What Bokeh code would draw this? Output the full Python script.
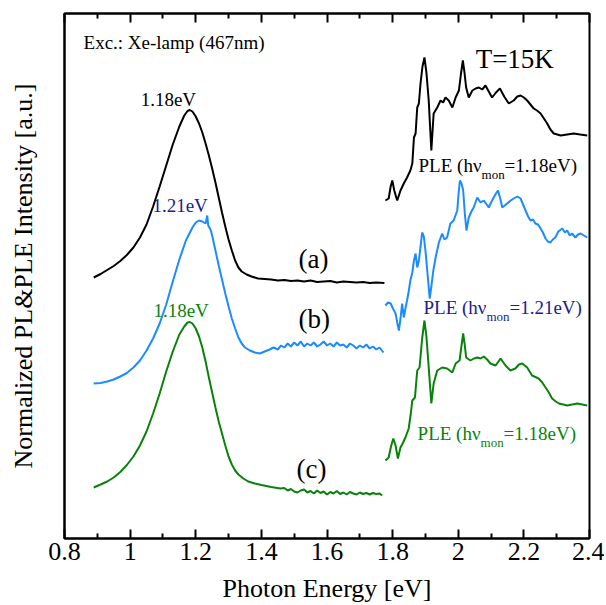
from bokeh.plotting import figure
from bokeh.models import Range1d, FixedTicker, LinearAxis, Label
from bokeh.embed import file_html
from bokeh.resources import INLINE

# ---------------- data (photon energy [eV], normalized intensity [a.u.]) ----------------
pl_a_x = [0.889, 0.91, 0.93, 0.95, 0.97, 0.99, 1.01, 1.03, 1.05, 1.07, 1.09, 1.11, 1.13, 1.15,
          1.165, 1.175, 1.182, 1.19, 1.20, 1.21, 1.22, 1.23, 1.24, 1.25, 1.26, 1.27, 1.28, 1.29,
          1.30, 1.31, 1.32, 1.33, 1.34, 1.355, 1.37, 1.39, 1.41, 1.43, 1.45, 1.47, 1.49, 1.51,
          1.53, 1.55, 1.57, 1.59, 1.61, 1.63, 1.65, 1.67, 1.69, 1.71, 1.73, 1.75, 1.775]
pl_a_y = [2.61, 2.645, 2.685, 2.725, 2.775, 2.835, 2.91, 3.01, 3.14, 3.32, 3.52, 3.73, 3.94, 4.12,
          4.23, 4.275, 4.285, 4.27, 4.22, 4.15, 4.06, 3.95, 3.83, 3.70, 3.56, 3.41, 3.26, 3.12,
          2.99, 2.88, 2.78, 2.71, 2.67, 2.64, 2.62, 2.60, 2.595, 2.59, 2.58, 2.585, 2.575, 2.58,
          2.57, 2.58, 2.565, 2.57, 2.575, 2.56, 2.57, 2.565, 2.56, 2.565, 2.555, 2.56, 2.555]

pl_b_x = [0.889, 0.91, 0.93, 0.95, 0.97, 0.99, 1.01, 1.03, 1.05, 1.07, 1.09, 1.11, 1.13, 1.15,
          1.17, 1.19, 1.20, 1.21, 1.22, 1.23, 1.235, 1.238, 1.245, 1.25, 1.26, 1.27, 1.28, 1.29,
          1.30, 1.31, 1.32, 1.33, 1.34, 1.35, 1.365, 1.38, 1.395, 1.41, 1.425, 1.437, 1.45, 1.46,
          1.47, 1.48, 1.49, 1.50, 1.51, 1.52, 1.53, 1.54, 1.55, 1.56, 1.57, 1.58, 1.59, 1.60,
          1.61, 1.62, 1.63, 1.64, 1.65, 1.66, 1.67, 1.68, 1.69, 1.70, 1.71, 1.72, 1.73, 1.74,
          1.75, 1.76, 1.772]
pl_b_y = [1.55, 1.555, 1.57, 1.59, 1.62, 1.655, 1.71, 1.78, 1.88, 2.00, 2.15, 2.34, 2.57, 2.79,
          2.98, 3.11, 3.16, 3.18, 3.17, 3.15, 3.23, 3.13, 3.09, 3.03, 2.88, 2.73, 2.59, 2.45,
          2.32, 2.20, 2.10, 2.01, 1.95, 1.91, 1.88, 1.86, 1.85, 1.87, 1.89, 1.91, 1.89, 1.93,
          1.91, 1.95, 1.92, 1.96, 1.93, 1.97, 1.92, 1.95, 1.93, 1.96, 1.92, 1.94, 1.97, 1.93,
          1.95, 1.92, 1.96, 1.93, 1.94, 1.91, 1.95, 1.93, 1.90, 1.93, 1.91, 1.94, 1.90, 1.92,
          1.89, 1.91, 1.86]

pl_c_x = [0.889, 0.91, 0.93, 0.95, 0.97, 0.99, 1.01, 1.03, 1.05, 1.07, 1.09, 1.11, 1.13, 1.15,
          1.165, 1.175, 1.182, 1.19, 1.20, 1.21, 1.22, 1.23, 1.24, 1.25, 1.26, 1.27, 1.28, 1.29,
          1.30, 1.31, 1.32, 1.33, 1.345, 1.36, 1.38, 1.40, 1.43, 1.458, 1.47, 1.48, 1.49, 1.50,
          1.51, 1.52, 1.53, 1.54, 1.55, 1.56, 1.57, 1.58, 1.59, 1.60, 1.61, 1.62, 1.63, 1.64,
          1.65, 1.66, 1.67, 1.68, 1.69, 1.70, 1.71, 1.72, 1.73, 1.74, 1.75, 1.76, 1.768]
pl_c_y = [0.51, 0.54, 0.57, 0.61, 0.665, 0.735, 0.82, 0.93, 1.07, 1.25, 1.45, 1.67, 1.87, 2.04,
          2.12, 2.16, 2.165, 2.15, 2.10, 2.02, 1.91, 1.77, 1.61, 1.46, 1.31, 1.17, 1.05, 0.93,
          0.82, 0.74, 0.68, 0.64, 0.60, 0.57, 0.55, 0.535, 0.515, 0.50, 0.505, 0.48, 0.495, 0.47,
          0.46, 0.48, 0.49, 0.46, 0.475, 0.45, 0.48, 0.455, 0.47, 0.44, 0.465, 0.45, 0.475, 0.445,
          0.46, 0.44, 0.465, 0.45, 0.44, 0.46, 0.445, 0.455, 0.44, 0.455, 0.445, 0.45, 0.43]

ple_a_x = [1.778, 1.788, 1.794, 1.799, 1.805, 1.814, 1.824, 1.834, 1.844, 1.854, 1.860, 1.865,
           1.870, 1.875, 1.880, 1.885, 1.891, 1.897, 1.903, 1.910, 1.918, 1.925, 1.936, 1.946,
           1.954, 1.961, 1.971, 1.982, 1.992, 2.002, 2.008, 2.014, 2.019, 2.024, 2.032, 2.043,
           2.053, 2.063, 2.073, 2.083, 2.093, 2.103, 2.115, 2.127, 2.140, 2.154, 2.169, 2.180,
           2.190, 2.200, 2.210, 2.220, 2.230, 2.240, 2.251, 2.261, 2.271, 2.281, 2.291, 2.302,
           2.312, 2.332, 2.352, 2.372, 2.393]
ple_a_y = [3.38, 3.40, 3.52, 3.58, 3.48, 3.38, 3.48, 3.55, 3.61, 3.68, 3.75, 4.01,
           4.05, 4.31, 4.35, 4.55, 4.72, 4.81, 4.66, 4.38, 3.88, 4.25, 4.31, 4.38,
           4.36, 4.41, 4.38, 4.31, 4.41, 4.48, 4.64, 4.78, 4.66, 4.51, 4.41, 4.48,
           4.50, 4.51, 4.49, 4.53, 4.47, 4.41, 4.46, 4.50, 4.42, 4.35, 4.38, 4.42,
           4.43, 4.41, 4.38, 4.34, 4.30, 4.28, 4.25, 4.20, 4.15, 4.09, 4.05, 4.04,
           4.03, 4.04, 4.05, 4.04, 4.03]

ple_b_x = [1.778, 1.786, 1.794, 1.801, 1.809, 1.814, 1.819, 1.824, 1.829, 1.834, 1.839, 1.844,
           1.849, 1.854, 1.860, 1.865, 1.870, 1.875, 1.880, 1.885, 1.890, 1.895, 1.900, 1.906,
           1.913, 1.918, 1.924, 1.931, 1.941, 1.951, 1.958, 1.966, 1.976, 1.986, 1.997, 2.001,
           2.005, 2.010, 2.015, 2.020, 2.025, 2.032, 2.040, 2.047, 2.058, 2.068, 2.078, 2.093,
           2.100, 2.108, 2.115, 2.121, 2.128, 2.134, 2.149, 2.160, 2.169, 2.180, 2.190, 2.205,
           2.213, 2.220, 2.228, 2.235, 2.243, 2.251, 2.258, 2.266, 2.273, 2.281, 2.288, 2.296,
           2.305, 2.317, 2.325, 2.332, 2.340, 2.347, 2.357, 2.365, 2.373, 2.383, 2.393]
ple_b_y = [2.33, 2.36, 2.35, 2.30, 2.25, 2.16, 2.08, 2.20, 2.35, 2.21, 2.30, 2.38,
           2.47, 2.58, 2.66, 2.78, 2.85, 2.71, 2.78, 2.92, 3.06, 3.02, 2.88, 2.66,
           2.40, 2.52, 2.68, 2.81, 2.96, 3.05, 2.99, 3.01, 3.15, 3.18, 3.28, 3.45,
           3.58, 3.55, 3.48, 3.25, 3.08, 3.21, 3.27, 3.31, 3.41, 3.36, 3.38, 3.31,
           3.36, 3.41, 3.45, 3.48, 3.40, 3.31, 3.35, 3.38, 3.40, 3.42, 3.40, 3.28,
           3.22, 3.18, 3.19, 3.15, 3.14, 3.10, 3.06, 3.00, 2.97, 2.96, 2.99, 3.01,
           3.07, 3.10, 3.06, 3.08, 3.03, 3.05, 3.01, 3.04, 3.05, 3.03, 3.01]

ple_c_x = [1.778, 1.788, 1.795, 1.802, 1.809, 1.816, 1.824, 1.832, 1.839, 1.849, 1.855, 1.860,
           1.868, 1.875, 1.882, 1.890, 1.897, 1.903, 1.910, 1.918, 1.925, 1.936, 1.951, 1.966,
           1.982, 1.992, 2.004, 2.010, 2.015, 2.020, 2.024, 2.037, 2.048, 2.058, 2.068, 2.078,
           2.088, 2.098, 2.114, 2.129, 2.144, 2.159, 2.174, 2.185, 2.195, 2.210, 2.225, 2.245,
           2.256, 2.266, 2.276, 2.286, 2.297, 2.307, 2.320, 2.332, 2.347, 2.363, 2.378, 2.393]
ple_c_y = [0.78, 0.81, 0.92, 1.00, 0.93, 0.80, 0.91, 0.96, 1.01, 1.10, 1.24, 1.38, 1.41, 1.68,
           1.71, 2.00, 2.18, 2.02, 1.71, 1.35, 1.55, 1.68, 1.71, 1.70, 1.66, 1.75, 1.78, 1.93,
           2.05, 1.93, 1.81, 1.78, 1.80, 1.81, 1.80, 1.82, 1.79, 1.75, 1.73, 1.80, 1.73, 1.68,
           1.70, 1.74, 1.75, 1.71, 1.63, 1.60, 1.56, 1.51, 1.46, 1.40, 1.37, 1.35, 1.34, 1.33,
           1.34, 1.35, 1.34, 1.33]

x_ticks = [0.8, 1.0, 1.2, 1.4, 1.6, 1.8, 2.0, 2.2, 2.4]
x_tick_labels = ["0.8", "1", "1.2", "1.4", "1.6", "1.8", "2", "2.2", "2.4"]
x_minor = [0.9, 1.1, 1.3, 1.5, 1.7, 1.9, 2.1, 2.3]

# ---------------- styling ----------------
FONT = "Liberation Serif"
BLACK = "#000000"
BLUE = "#1a8cff"
GREEN = "#0a820a"
NAVY = "#1c1c8a"

p = figure(width=604, height=605, x_range=Range1d(0.8, 2.4), y_range=Range1d(0, 5.25),
           output_backend="svg", toolbar_location=None,
           min_border_left=64, min_border_right=15, min_border_top=13, min_border_bottom=67)
p.title.visible = False
p.xgrid.visible = False
p.ygrid.visible = False
p.outline_line_color = BLACK
p.outline_line_width = 2
p.outline_line_alpha = 1
p.background_fill_color = "white"
p.border_fill_color = "white"

ticker = FixedTicker(ticks=x_ticks, minor_ticks=x_minor)
xa = p.xaxis[0]
xa.ticker = ticker
xa.major_label_overrides = {t: l for t, l in zip(x_ticks, x_tick_labels)}
xa.major_label_text_font = FONT
xa.major_label_text_font_size = "26px"
xa.major_label_text_line_height = 1.0
xa.major_label_text_color = BLACK
xa.major_label_standoff = 4
xa.major_tick_in = 9
xa.major_tick_out = 0
xa.minor_tick_in = 5
xa.minor_tick_out = 0
xa.major_tick_line_width = 2
xa.minor_tick_line_width = 2
xa.major_tick_line_color = BLACK
xa.minor_tick_line_color = BLACK
xa.axis_line_color = BLACK
xa.axis_line_width = 2
xa.axis_label = "Photon Energy [eV]"
xa.axis_label_text_font = FONT
xa.axis_label_text_font_size = "26px"
xa.axis_label_text_line_height = 1.0
xa.axis_label_text_font_style = "normal"
xa.axis_label_text_color = BLACK
xa.axis_label_standoff = 11

top = LinearAxis(ticker=ticker, major_label_overrides={t: "" for t in x_ticks},
                 major_label_text_font_size="1px", major_label_standoff=0,
                 major_tick_in=9, major_tick_out=0, minor_tick_in=5, minor_tick_out=0,
                 major_tick_line_width=2, minor_tick_line_width=2,
                 axis_line_width=2, axis_line_color=BLACK)
p.add_layout(top, "above")

ya = p.yaxis[0]
ya.ticker = FixedTicker(ticks=[])
ya.major_label_standoff = 0
ya.major_tick_out = 0
ya.axis_line_color = BLACK
ya.axis_line_width = 2
ya.axis_label = "Normalized PL&PLE Intensity [a.u.]"
ya.axis_label_text_font = FONT
ya.axis_label_text_font_size = "26px"
ya.axis_label_text_font_style = "normal"
ya.axis_label_text_color = BLACK
ya.axis_label_standoff = 27

# ---------------- curves ----------------
p.line(pl_a_x, pl_a_y, line_color=BLACK, line_width=2)
p.line(pl_b_x, pl_b_y, line_color=BLUE, line_width=2)
p.line(pl_c_x, pl_c_y, line_color=GREEN, line_width=2)
p.line(ple_a_x, ple_a_y, line_color=BLACK, line_width=2)
p.line(ple_b_x, ple_b_y, line_color=BLUE, line_width=2)
p.line(ple_c_x, ple_c_y, line_color=GREEN, line_width=2)

# ---------------- annotations ----------------
def lab(x, y, text, size, color=BLACK, dy=0, **kw):
    p.add_layout(Label(x=x, y=y, text=text, text_font=FONT, text_font_size=f"{size}px",
                       text_color=color, text_baseline="alphabetic",
                       y_offset=round(0.38 * size) + dy, **kw))

lab(0.858, 4.89, "Exc.: Xe-lamp (467nm)", 19)
lab(2.053, 4.70, "T=15K", 27)
lab(1.032, 4.32, "1.18eV", 19)
lab(1.068, 3.26, "1.21eV", 19, NAVY)
lab(1.071, 2.21, "1.18eV", 19, GREEN)
lab(1.513, 2.70, "(a)", 27)
lab(1.513, 2.10, "(b)", 27)
lab(1.507, 0.60, "(c)", 27)

def ple(x, y, tail, color):
    lab(x, y, "PLE (h\u03bd", 19, color)
    lab(x, y, "mon", 13, color, dy=-7, x_offset=63)
    lab(x, y, tail, 19, color, x_offset=86)

ple(1.879, 3.66, "=1.18eV)", BLACK)
ple(1.894, 2.24, "=1.21eV)", NAVY)
ple(1.876, 0.98, "=1.18eV)", GREEN)

open("out.html", "w").write(file_html(p, INLINE))
